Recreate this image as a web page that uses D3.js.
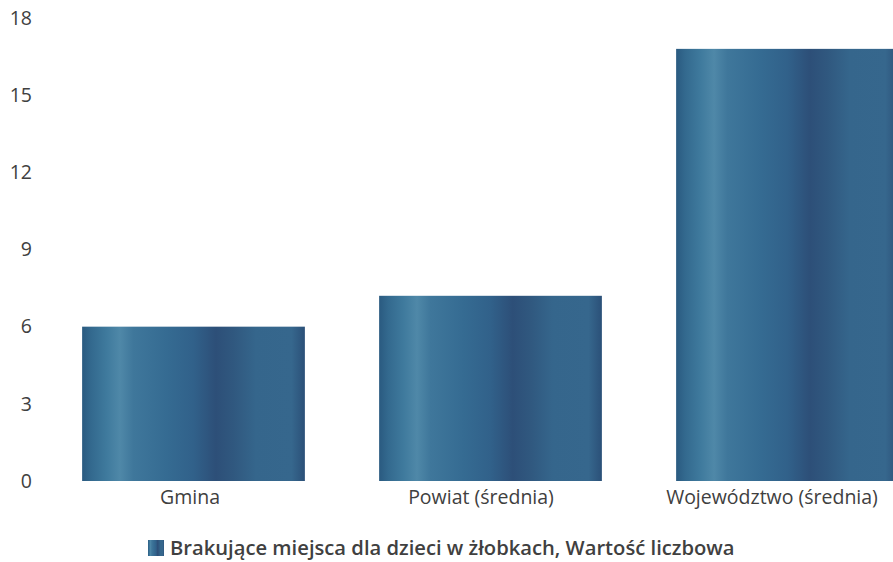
<!DOCTYPE html>
<html><head><meta charset="utf-8">
<script src="https://cdn.jsdelivr.net/npm/d3@7"></script>
<style>html,body{margin:0;padding:0;background:#fff;overflow:hidden}</style>
</head><body>
<script>
const categories = ["Gmina", "Powiat (średnia)", "Województwo (średnia)"];
const values = [6.0, 7.2, 16.8];
const yTicks = [0, 3, 6, 9, 12, 15, 18];
const seriesName = "Brakujące miejsca dla dzieci w żłobkach, Wartość liczbowa";

const W = 893, H = 562;
const svg = d3.select("body").append("svg").attr("width", W).attr("height", H)
  .style("font-family", "'Open Sans', sans-serif");

const defs = svg.append("defs");
const grad = defs.append("linearGradient").attr("id", "barGrad")
  .attr("x1", "0%").attr("x2", "100%").attr("y1", "0%").attr("y2", "0%");
[["0%","#2a5a80"],["4%","#33698e"],["11%","#3f7a9d"],["17%","#4f88a8"],["23%","#3f779b"],
 ["38%","#356b92"],["50%","#31618a"],["60%","#2d4f78"],["68%","#30587f"],["78%","#35668c"],
 ["94%","#36678d"],["100%","#2b5078"]].forEach(([o,c]) =>
  grad.append("stop").attr("offset", o).attr("stop-color", c));

const x = d3.scaleBand().domain(categories).range([45, 936]).paddingInner(0.25).paddingOuter(0.125);
const xLab = d3.scaleBand().domain(categories).range([44.5, 917.5]);
const y = d3.scaleLinear().domain([0, 18]).range([481, 18]);

svg.selectAll("rect.bar").data(values).join("rect").attr("class", "bar")
  .attr("x", (d, i) => x(categories[i]))
  .attr("y", d => y(d))
  .attr("width", x.bandwidth())
  .attr("height", d => y(0) - y(d))
  .attr("fill", "url(#barGrad)");

const yAxis = svg.append("g").attr("transform", "translate(32,0)")
  .call(d3.axisLeft(y).tickValues(yTicks).tickSize(0).tickPadding(0));
yAxis.select(".domain").remove();
yAxis.selectAll("text").attr("font-size", 19.5).attr("fill", "#404040")
  .attr("font-family", "'Open Sans', sans-serif");

const xAxis = svg.append("g").attr("transform", "translate(0,481)")
  .call(d3.axisBottom(xLab).tickSize(0).tickPadding(9));
xAxis.select(".domain").remove();
xAxis.selectAll("text").attr("font-size", 19.5).attr("fill", "#404040")
  .attr("font-family", "'Open Sans', sans-serif");

const leg = svg.append("g");
leg.append("rect").attr("x", 148).attr("y", 540).attr("width", 16).attr("height", 16).attr("fill", "url(#barGrad)");
leg.append("text").attr("x", 170).attr("y", 555).attr("font-size", 20.2).attr("fill", "#404040")
  .attr("font-weight", 600).text(seriesName);
</script>
</body></html>
